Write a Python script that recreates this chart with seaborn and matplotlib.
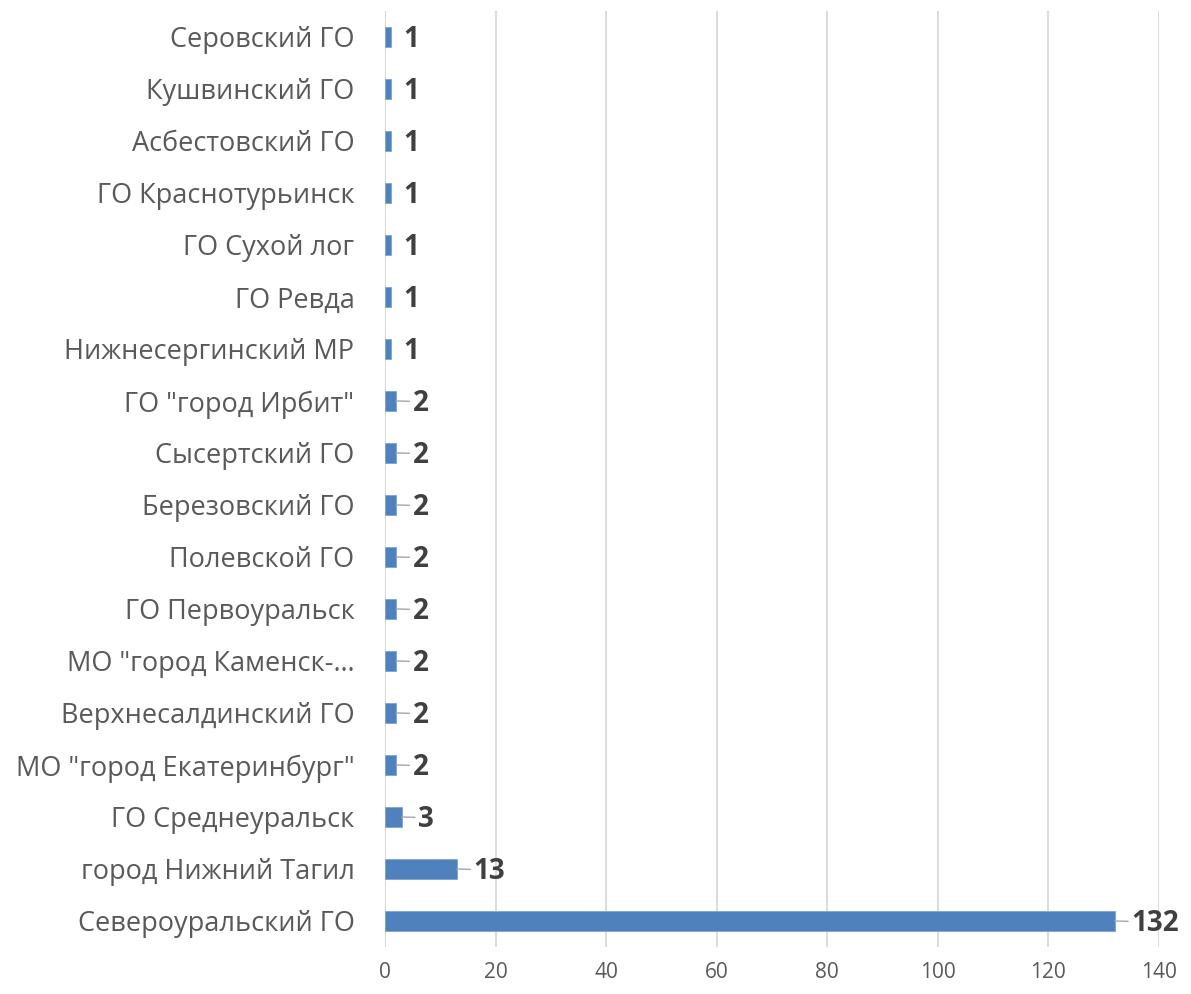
import matplotlib
matplotlib.use("Agg")
import matplotlib.pyplot as plt
import seaborn as sns
import pandas as pd

# Data (top to bottom)
districts = [
    "Серовский ГО",
    "Кушвинский ГО",
    "Асбестовский ГО",
    "ГО Краснотурьинск",
    "ГО Сухой лог",
    "ГО Ревда",
    "Нижнесергинский МР",
    "ГО \"город Ирбит\"",
    "Сысертский ГО",
    "Березовский ГО",
    "Полевской ГО",
    "ГО Первоуральск",
    "МО \"город Каменск-…",
    "Верхнесалдинский ГО",
    "МО \"город Екатеринбург\"",
    "ГО Среднеуральск",
    "город Нижний Тагил",
    "Североуральский ГО",
]
counts = [1, 1, 1, 1, 1, 1, 1, 2, 2, 2, 2, 2, 2, 2, 2, 3, 13, 132]
x_ticks = [0, 20, 40, 60, 80, 100, 120, 140]

df = pd.DataFrame({"district": districts, "count": counts})

sns.set_style("white")
plt.rcParams["font.family"] = ["Open Sans", "DejaVu Sans"]

fig = plt.figure(figsize=(11.91, 9.94), dpi=100)
ax = fig.add_axes([0.3233, 0.0473, 0.6498, 0.9417])

sns.barplot(data=df, x="count", y="district", orient="h", color="#4F81BD",
            width=0.4, saturation=1, edgecolor="#7FA3D3", linewidth=0.6,
            ax=ax, zorder=3)

ax.set_xlim(0, 140)
ax.set_ylim(len(districts) - 0.5, -0.5)
ax.set_xticks(x_ticks)
ax.set_xlabel("")
ax.set_ylabel("")
ax.grid(axis="x", color="#D9D9D9", linewidth=1.3, zorder=0)
for side in ["top", "right", "bottom", "left"]:
    ax.spines[side].set_visible(False)
ax.axvline(0, color="#D9D9D9", linewidth=1.3, zorder=1)

ax.tick_params(axis="y", length=0, pad=22, labelsize=19.5, labelcolor="#595959")
ax.tick_params(axis="x", length=0, pad=11, labelsize=15, labelcolor="#595959")

# value labels with short leader lines
for i, v in enumerate(counts):
    if v > 1:
        ax.annotate(str(v), xy=(v, i), xytext=(12, -2), textcoords="offset points",
                    ha="left", va="center", fontsize=20, fontweight="bold",
                    color="#404040",
                    arrowprops=dict(arrowstyle="-", color="#A6A6A6", lw=1,
                                    relpos=(0, 0.58), shrinkA=0, shrinkB=0))
    else:
        ax.annotate(str(v), xy=(v, i), xytext=(9, -2), textcoords="offset points",
                    ha="left", va="center", fontsize=20, fontweight="bold",
                    color="#404040")

fig.savefig("out.png", dpi=100)
